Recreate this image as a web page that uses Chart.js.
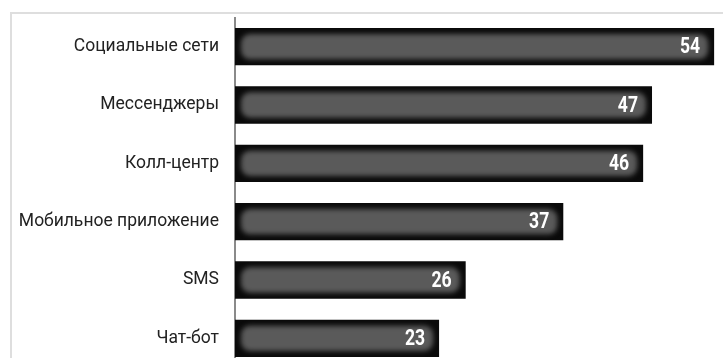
<!DOCTYPE html>
<html>
<head>
<meta charset="utf-8">
<script src="https://cdn.jsdelivr.net/npm/chart.js@4/dist/chart.umd.min.js"></script>
<style>
  html, body { margin: 0; padding: 0; background: #fff; overflow: hidden; }
  #wrap { position: relative; width: 723px; height: 358px; overflow: hidden; }
  #frame { position: absolute; left: 10px; top: 12px; width: 760px; height: 400px;
           border-left: 2px solid #dedede; border-top: 2px solid #dedede; }
  #box { position: absolute; left: 0; top: -9.5px; width: 723px; height: 403px; }
</style>
</head>
<body>
<div id="wrap">
  <div id="frame"></div>
  <div id="box"><canvas id="c"></canvas></div>
</div>
<script>
// Каналы обращения и доля (%)
const categories = ['Социальные сети', 'Мессенджеры', 'Колл-центр', 'Мобильное приложение', 'SMS', 'Чат-бот'];
const values = [54, 47, 46, 37, 26, 23];
const axisMax = 55;

// Soft grey inner panel on each black bar, plus the white value label
const barStyle = {
  id: 'barStyle',
  afterDatasetsDraw(chart) {
    const ctx = chart.ctx;
    const meta = chart.getDatasetMeta(0);
    meta.data.forEach((el, i) => {
      const p = el.getProps(['x', 'y', 'base', 'height'], true);
      const left = Math.min(p.base, p.x), right = Math.max(p.base, p.x);
      const top = p.y - p.height / 2, h = p.height;
      const inset = 6;
      ctx.save();
      ctx.beginPath();
      ctx.rect(left, top, right - left, h);
      ctx.clip();
      ctx.filter = 'blur(2.5px)';
      ctx.fillStyle = '#5a5a5a';
      ctx.beginPath();
      ctx.roundRect(left + inset, top + inset, right - left - 2 * inset, h - 2 * inset, 9);
      ctx.fill();
      ctx.restore();

      // condensed bold numerals
      ctx.save();
      ctx.fillStyle = '#ffffff';
      ctx.font = 'bold 22px Roboto, sans-serif';
      ctx.textAlign = 'right';
      ctx.textBaseline = 'middle';
      ctx.translate(right - 14, p.y + 1);
      ctx.scale(0.8, 1);
      ctx.fillText(String(values[i]), 0, 0);
      ctx.restore();
    });
  }
};

new Chart(document.getElementById('c'), {
  type: 'bar',
  data: {
    labels: categories,
    datasets: [{
      data: values,
      backgroundColor: '#0a0a0a',
      borderWidth: 0,
      categoryPercentage: 1,
      barPercentage: 0.64
    }]
  },
  options: {
    indexAxis: 'y',
    responsive: true,
    maintainAspectRatio: false,
    animation: false,
    layout: { padding: { top: 7, left: 0, right: 0, bottom: 0 } },
    plugins: { legend: { display: false }, tooltip: { enabled: false } },
    scales: {
      x: { display: false, min: 0, max: axisMax },
      y: {
        grid: { display: false, drawTicks: false },
        border: { display: true, color: '#8a8a8a', width: 2 },
        ticks: {
          color: '#222',
          padding: 16,
          font: { family: 'Roboto, "Noto Sans", sans-serif', size: 17.5 }
        },
        afterFit(scale) { scale.width = 235; }
      }
    }
  },
  plugins: [barStyle]
});
</script>
</body>
</html>
